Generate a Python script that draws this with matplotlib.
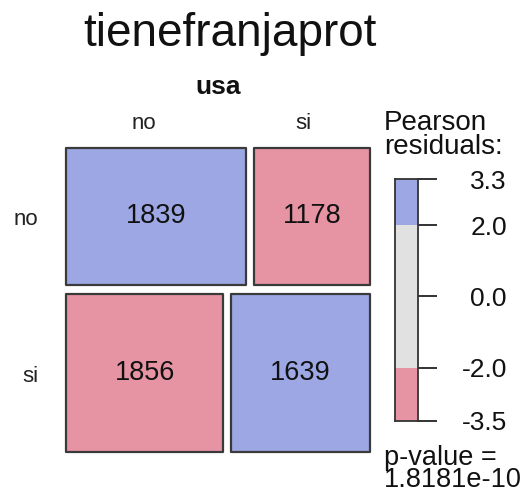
import numpy as np
import matplotlib
matplotlib.use("Agg")
import matplotlib.pyplot as plt
from matplotlib.patches import Rectangle

plt.rcParams['font.family'] = ['Liberation Sans', 'DejaVu Sans']

# contingency table: rows = tienefranjaprot, columns = usa
row_labels = ["no", "si"]
col_labels = ["no", "si"]
counts = np.array([[1839, 1178],
                   [1856, 1639]])
p_value_text = "p-value =\n1.8181e-10"

BLUE = "#9ca7e3"
PINK = "#e693a4"
GRAY = "#e1e1e1"
EDGE = "#3a3a3a"

# pearson residuals
total = counts.sum()
expected = np.outer(counts.sum(axis=1), counts.sum(axis=0)) / total
resid = (counts - expected) / np.sqrt(expected)

def shade(r):
    if r > 2:
        return BLUE
    if r < -2:
        return PINK
    return GRAY

W, H = 525, 495
fig = plt.figure(figsize=(W / 100, H / 100), dpi=100)

# mosaic panel (pixel box 66..370 x 148..452)
ax = fig.add_axes([66 / W, 1 - 452 / H, 304 / W, 304 / H])
ax.set_xlim(0, 1)
ax.set_ylim(0, 1)
ax.axis("off")

gap_x = 8 / 304
gap_y = 9 / 304
row_tot = counts.sum(axis=1)
row_h = (1 - gap_y * (len(row_labels) - 1)) * row_tot / total
y_top = 1.0
for i, rl in enumerate(row_labels):
    y0 = y_top - row_h[i]
    widths = (1 - gap_x * (len(col_labels) - 1)) * counts[i] / row_tot[i]
    x0 = 0.0
    for j in range(len(col_labels)):
        ax.add_patch(Rectangle((x0, y0), widths[j], row_h[i],
                               facecolor=shade(resid[i, j]), edgecolor=EDGE,
                               linewidth=1.6, joinstyle="round", clip_on=False))
        ax.text(x0 + widths[j] / 2, y0 + row_h[i] / 2, str(counts[i, j]),
                ha="center", va="center", fontsize=19.5, color="#111111")
        x0 += widths[j] + gap_x
    ax.text(-0.09, y0 + row_h[i] / 2 - 0.012, rl, ha="right", va="center",
            fontsize=16, color="#222222")
    y_top = y0 - gap_y

# column labels, placed from the top row
widths0 = (1 - gap_x) * counts[0] / row_tot[0]
col_x = [widths0[0] / 2 - 0.04, widths0[0] + gap_x + widths0[1] / 2 - 0.03]
for cx, cl in zip(col_x, col_labels):
    ax.text(cx, 1.045, cl, ha="center", va="bottom", fontsize=16, color="#222222")
ax.text(0.5, 1.16, "usa", ha="center", va="bottom", fontsize=19,
        fontweight="bold", color="#111111")

fig.text(230 / W, 1 - 34 / H, "tienefranjaprot", ha="center", va="center",
         fontsize=33, color="#111111")

# legend bar
lo = round(resid.min(), 1)
hi = round(resid.max(), 1)
lax = fig.add_axes([395 / W, 1 - 421 / H, 23 / W, 242 / H])
lax.set_xlim(0, 1)
lax.set_ylim(lo, hi)
lax.axhspan(lo, -2, color=PINK, lw=0)
lax.axhspan(-2, 2, color=GRAY, lw=0)
lax.axhspan(2, hi, color=BLUE, lw=0)
lax.set_xticks([])
ticks = [lo, -2.0, 0.0, 2.0, hi]
lax.set_yticks(ticks)
lax.set_yticklabels([f"{t:.1f}" for t in ticks])
lax.yaxis.tick_right()
lax.tick_params(axis="y", length=14, width=1.3, color="#222222",
                labelsize=19, pad=50, labelcolor="#111111")
for lab in lax.get_yticklabels():
    lab.set_ha("right")
for s in lax.spines.values():
    s.set_linewidth(1.3)
    s.set_color("#333333")

fig.text(384 / W, 1 - 110 / H, "Pearson\nresiduals:", ha="left", va="top",
         fontsize=20, linespacing=0.9, color="#111111")
fig.text(384 / W, 1 - 445 / H, p_value_text, ha="left", va="top",
         fontsize=19.5, linespacing=0.8, color="#111111")

fig.savefig("out.png", dpi=100)
